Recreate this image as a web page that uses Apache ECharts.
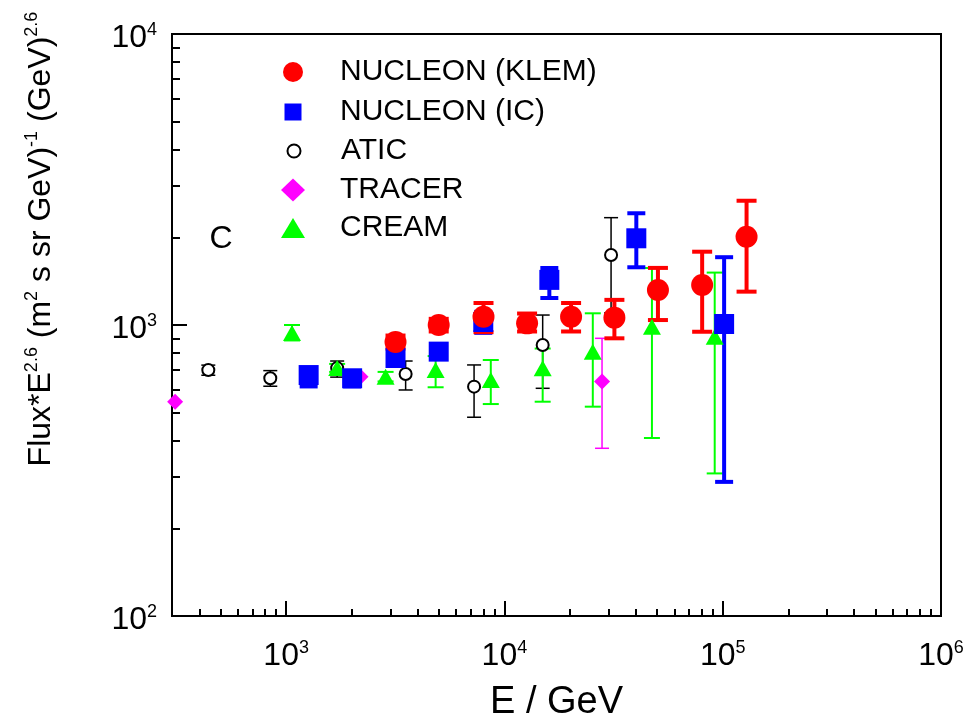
<!DOCTYPE html>
<html>
<head>
<meta charset="utf-8">
<script src="https://cdn.jsdelivr.net/npm/echarts@6/dist/echarts.min.js"></script>
<style>
  html, body { margin: 0; background: #fff; }
  #chart { width: 969px; height: 728px; }
</style>
</head>
<body>
<div id="chart"></div>
<script>
// NUCLEON (KLEM)
const klemE = [3170, 5000, 8020, 12700, 20200, 31900, 50500, 80500, 128600]
const klemF = [874, 1000, 1068, 1013, 1068, 1060, 1319, 1373, 2009]
const klemLo = [830, 950, 945, 950, 950, 900, 1040, 948, 1302]
const klemHi = [920, 1050, 1190, 1095, 1190, 1220, 1571, 1786, 2673]

// NUCLEON (IC)
const icE = [1268, 2006, 3170, 5000, 8000, 16060, 40200, 101500]
const icF = [673, 656, 770, 810, 1024, 1429, 1986, 1008]
const icLo = [615, 615, 725, 765, 940, 1238, 1579, 289]
const icHi = [705, 690, 810, 850, 1110, 1570, 2421, 1710]

// ATIC
const aticE = [440, 846, 1713, 3527, 7260, 14970, 30800]
const aticF = [700, 656, 711, 679, 614, 854, 1740]
const aticLo = [672, 616, 662, 598, 482, 606, 1100]
const aticHi = [728, 697, 752, 752, 729, 1082, 2338]

// TRACER
const tracerE = [310, 2191, 28000]
const tracerF = [545, 664, 639]
const tracerLo = [null, null, 377]
const tracerHi = [null, null, 900]

// CREAM
const creamE = [1064, 1713, 2855, 4840, 8660, 14970, 25400, 47400, 91900]
const creamF = [939, 711, 664, 700, 647, 710, 810, 987, 912]
const creamLo = [885, 690, 640, 611, 535, 545, 524, 409, 309]
const creamHi = [1000, 735, 690, 782, 758, 830, 1097, 1570, 1514]

const xMajor = [1e3, 1e4, 1e5, 1e6]
const yMajor = [1e2, 1e3, 1e4]

const FONT = '"Liberation Sans", Arial, sans-serif'

function minorTicks(from, to) {
  const out = []
  for (let d = from; d < to; d *= 10) {
    for (let k = 2; k <= 9; k++) out.push(d * k)
  }
  return out
}
const xMinor = minorTicks(100, 1e6).filter(v => v > 300)
const yMinor = minorTicks(100, 1e4)

const pts = (xs, ys) => xs.map((x, i) => [x, ys[i]])
const bars = (xs, lo, hi) => xs.map((x, i) => [x, lo[i], hi[i]]).filter(d => d[1] != null)

function errorBars(data, color, lw, cap) {
  return {
    type: 'custom',
    data,
    encode: { x: 0, y: [1, 2] },
    renderItem(params, api) {
      const top = api.coord([api.value(0), api.value(2)])
      const bot = api.coord([api.value(0), api.value(1)])
      const style = { stroke: color, lineWidth: lw }
      const h = cap / 2
      return {
        type: 'group',
        children: [
          { type: 'line', shape: { x1: top[0], y1: top[1], x2: bot[0], y2: bot[1] }, style },
          { type: 'line', shape: { x1: top[0] - h, y1: top[1], x2: top[0] + h, y2: top[1] }, style },
          { type: 'line', shape: { x1: bot[0] - h, y1: bot[1], x2: bot[0] + h, y2: bot[1] }, style }
        ]
      }
    }
  }
}

const tickRich = {
  b: { fontSize: 32, lineHeight: 34, fontFamily: FONT, color: '#000' },
  s: { fontSize: 18, lineHeight: 18, fontFamily: FONT, color: '#000', verticalAlign: 'top' }
}
const powLabel = (v) => `{b|10}{s|${Math.round(Math.log10(v))}}`

function legendRow(name, y, w, h) {
  return {
    data: [name],
    orient: 'vertical',
    padding: 0,
    left: 293 - w / 2,
    top: y - Math.max(h, 30) / 2,
    itemWidth: w,
    itemHeight: h,
    selectedMode: false,
    textStyle: { fontSize: 30, lineHeight: 30, fontFamily: FONT, color: '#000', padding: [0, 0, 0, 42 - w / 2] }
  }
}

const gridBox = { left: 172, right: 28, top: 34, bottom: 112 }

const chart = echarts.init(document.getElementById('chart'))
chart.setOption({
  animation: false,
  backgroundColor: '#fff',
  grid: [
    Object.assign({ show: true, borderColor: '#000', borderWidth: 2 }, gridBox),
    Object.assign({}, gridBox)
  ],
  xAxis: [{
    type: 'log', min: 300, max: 1e6, gridIndex: 0,
    name: 'E / GeV', nameLocation: 'middle', nameGap: 68,
    nameTextStyle: { fontSize: 38, fontFamily: FONT, color: '#000' },
    axisLine: { lineStyle: { color: '#000', width: 2 } },
    axisTick: { inside: true, length: 15, customValues: xMajor, lineStyle: { color: '#000', width: 2 } },
    axisLabel: { customValues: xMajor, margin: 23, formatter: powLabel, rich: tickRich },
    splitLine: { show: false }
  }, {
    type: 'log', min: 300, max: 1e6, gridIndex: 1,
    axisLine: { show: false },
    axisTick: { inside: true, length: 7, customValues: xMinor, lineStyle: { color: '#000', width: 2 } },
    axisLabel: { show: false },
    splitLine: { show: false }
  }],
  yAxis: [{
    type: 'log', min: 100, max: 1e4, gridIndex: 0,
    axisLine: { lineStyle: { color: '#000', width: 2 } },
    axisTick: { inside: true, length: 15, customValues: yMajor, lineStyle: { color: '#000', width: 2 } },
    axisLabel: { customValues: yMajor, margin: 15, formatter: powLabel, rich: tickRich, padding: [9, 0, 0, 0] },
    splitLine: { show: false }
  }, {
    type: 'log', min: 100, max: 1e4, gridIndex: 1,
    axisLine: { show: false },
    axisTick: { inside: true, length: 8, customValues: yMinor, lineStyle: { color: '#000', width: 2 } },
    axisLabel: { show: false },
    splitLine: { show: false }
  }],
  legend: [
    legendRow('NUCLEON (KLEM)', 72, 20, 20),
    legendRow('NUCLEON (IC)', 112, 17, 17),
    legendRow('ATIC', 151, 13, 13),
    legendRow('TRACER', 190, 24, 23),
    legendRow('CREAM', 228, 24, 20)
  ],
  graphic: [{
    type: 'text', x: 41, y: 239, rotation: Math.PI / 2,
    style: {
      text: '{a|Flux*E}{s|2.6}{a| (m}{s|2}{a| s sr GeV)}{s|-1}{a| (GeV)}{s|2.6}',
      align: 'center', verticalAlign: 'middle',
      rich: {
        a: { fontSize: 32, lineHeight: 36, fontFamily: FONT, fill: '#000' },
        s: { fontSize: 18, lineHeight: 18, fontFamily: FONT, fill: '#000', verticalAlign: 'top' }
      }
    }
  }, {
    type: 'text', x: 221, y: 239,
    style: { text: 'C', fontSize: 32, fontFamily: FONT, fill: '#000', align: 'center', verticalAlign: 'middle' }
  }],
  series: [
    errorBars(bars(aticE, aticLo, aticHi), '#000', 1.5, 14),
    { name: 'ATIC', type: 'scatter', symbol: 'emptyCircle', symbolSize: 12,
      itemStyle: { color: '#000', borderWidth: 1.5, opacity: 1 }, data: pts(aticE, aticF) },
    errorBars(bars(tracerE, tracerLo, tracerHi), '#ff00ff', 1.5, 14),
    { name: 'TRACER', type: 'scatter', symbol: 'diamond', symbolSize: 16,
      itemStyle: { color: '#ff00ff', opacity: 1 }, data: pts(tracerE, tracerF) },
    errorBars(bars(creamE, creamLo, creamHi), '#00ff00', 2, 16),
    { name: 'CREAM', type: 'scatter', symbol: 'triangle', symbolSize: [18, 16],
      itemStyle: { color: '#00ff00', opacity: 1 }, data: pts(creamE, creamF) },
    errorBars(bars(icE, icLo, icHi), '#0000ff', 4, 18),
    { name: 'NUCLEON (IC)', type: 'scatter', symbol: 'rect', symbolSize: 20,
      itemStyle: { color: '#0000ff', opacity: 1 }, data: pts(icE, icF) },
    errorBars(bars(klemE, klemLo, klemHi), '#ff0000', 4, 20),
    { name: 'NUCLEON (KLEM)', type: 'scatter', symbol: 'circle', symbolSize: 22,
      itemStyle: { color: '#ff0000', opacity: 1 }, data: pts(klemE, klemF) }
  ]
})
</script>
</body>
</html>
